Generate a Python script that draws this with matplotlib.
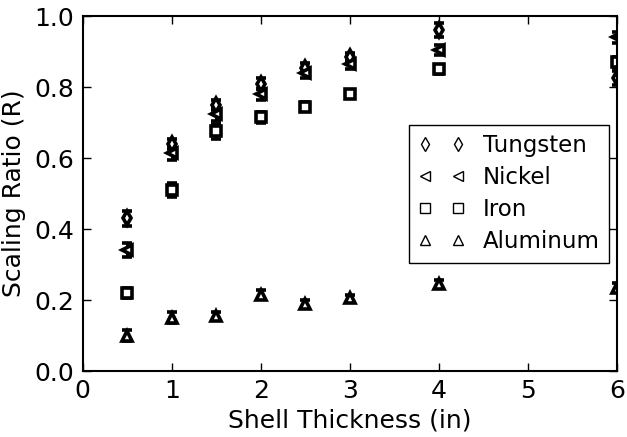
import matplotlib
matplotlib.use("Agg")
import matplotlib.pyplot as plt
from matplotlib.lines import Line2D

thickness = [0.5, 1.0, 1.5, 2.0, 2.5, 3.0, 4.0, 6.0]

tungsten = [0.43, 0.64, 0.75, 0.81, 0.855, 0.885, 0.96, 0.825]
tungsten_err = [0.02, 0.015, 0.015, 0.015, 0.012, 0.012, 0.02, 0.02]
nickel = [0.34, 0.615, 0.725, 0.78, 0.84, 0.865, 0.905, 0.94]
nickel_err = [0.02, 0.02, 0.02, 0.015, 0.015, 0.015, 0.015, 0.015]
iron = [0.22, 0.51, 0.675, 0.715, 0.745, 0.78, 0.85, 0.87]
iron_err = [0.015, 0.02, 0.02, 0.015, 0.012, 0.012, 0.012, 0.015]
aluminum = [0.10, 0.15, 0.155, 0.215, 0.19, 0.205, 0.245, 0.235]
aluminum_err = [0.015, 0.015, 0.012, 0.012, 0.01, 0.01, 0.012, 0.012]

series = [
    ("Tungsten", tungsten, tungsten_err, "d"),
    ("Nickel", nickel, nickel_err, "<"),
    ("Iron", iron, iron_err, "s"),
    ("Aluminum", aluminum, aluminum_err, "^"),
]

plt.rcParams["font.family"] = "DejaVu Sans"
plt.rcParams["font.size"] = 17

fig = plt.figure(figsize=(6.27, 4.37), dpi=100)
ax = fig.add_axes([0.132, 0.151, 0.852, 0.812])

handles = []
for name, vals, errs, mk in series:
    ax.errorbar(thickness, vals, yerr=errs, fmt=mk, ms=7, mfc="white",
                mec="black", mew=2.6, ecolor="black", elinewidth=2,
                capsize=3.5, capthick=2)
    # legend uses thin outline markers
    handles.append(Line2D([], [], ls="none", marker=mk, ms=7, mfc="white",
                          mec="black", mew=1.0, label=name))

ax.set_xlim(0, 6)
ax.set_ylim(0, 1.0)
ax.set_xticks([0, 1, 2, 3, 4, 5, 6])
ax.set_yticks([0.0, 0.2, 0.4, 0.6, 0.8, 1.0])
ax.set_yticklabels(["0.0", "0.2", "0.4", "0.6", "0.8", "1.0"])
ax.tick_params(direction="in", top=True, right=True, length=6, width=1,
               labelsize=18, pad=6)
for s in ax.spines.values():
    s.set_linewidth(1.5)

ax.set_xlabel("Shell Thickness (in)", fontsize=18)
ax.set_ylabel("Scaling Ratio (R)", fontsize=18, labelpad=6)

leg = ax.legend(handles=handles, numpoints=2, loc="center right",
                bbox_to_anchor=(0.985, 0.5), fontsize=16.5, fancybox=False,
                framealpha=1, edgecolor="black", borderaxespad=0.0,
                handlelength=2.0, labelspacing=0.4)
leg.get_frame().set_linewidth(1.0)

fig.savefig("out.png", dpi=100)
